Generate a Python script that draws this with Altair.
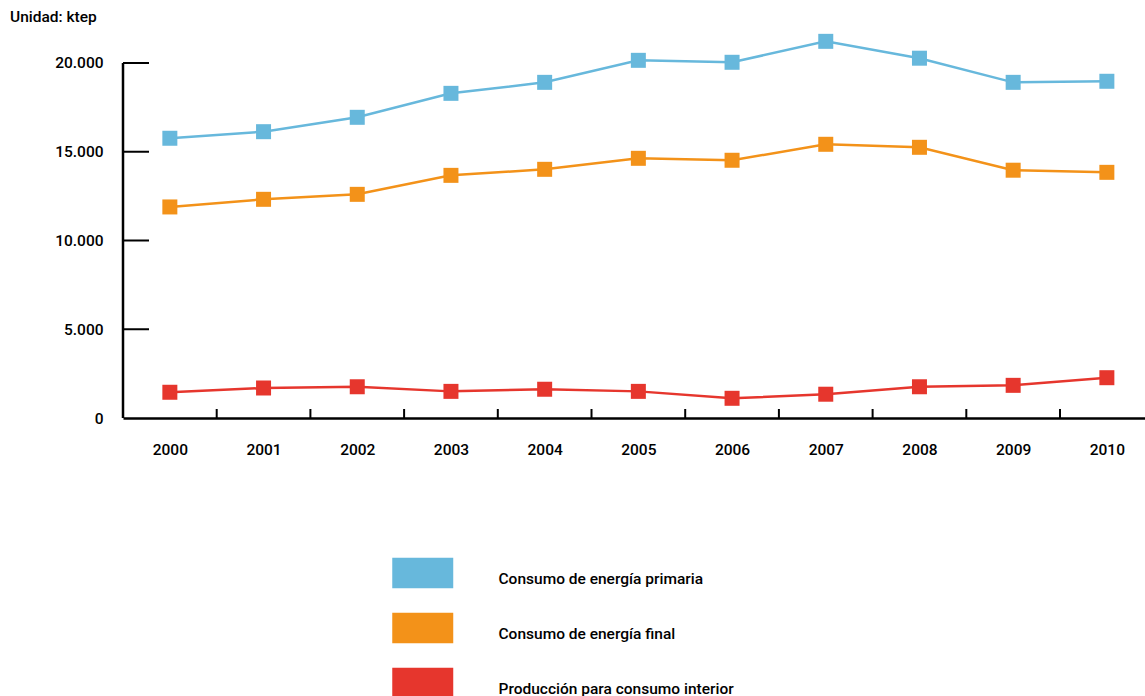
import altair as alt
import pandas as pd

years = [2000, 2001, 2002, 2003, 2004, 2005, 2006, 2007, 2008, 2009, 2010]
primaria = [15760, 16130, 16940, 18290, 18910, 20150, 20040, 21220, 20270, 18910, 18970]
final = [11890, 12320, 12600, 13670, 14010, 14630, 14520, 15420, 15250, 13960, 13840]
produccion = [1450, 1690, 1760, 1500, 1620, 1500, 1110, 1340, 1760, 1840, 2270]

series_names = ["Consumo de energía primaria", "Consumo de energía final", "Producción para consumo interior"]
series_colors = ["#67b8dc", "#f39219", "#e6362d"]

y_label_values = [0, 5000, 10000, 15000, 20000]
y_tick_values = [5000, 10000, 15000, 20000]
x_tick_values = [2000.5, 2001.5, 2002.5, 2003.5, 2004.5, 2005.5, 2006.5, 2007.5, 2008.5, 2009.5]

FONT = "Roboto"
FW = 500
FS = 15.5
W, H = 1022, 383
X_DOMAIN = [1999.5, 2010.407]
Y_DOMAIN = [0, 21577]

rows = []
for name, vals in zip(series_names, [primaria, final, produccion]):
    for yr, v in zip(years, vals):
        rows.append({"year": yr, "value": v, "serie": name})
df = pd.DataFrame(rows)

xs = alt.Scale(domain=X_DOMAIN, nice=False, zero=False)
ys = alt.Scale(domain=Y_DOMAIN, nice=False, zero=False)
cs = alt.Scale(domain=series_names, range=series_colors)

legend = alt.Legend(
    title=None, orient="none", legendX=284.25, legendY=528, padding=0,
    symbolType="M-2,-1.36H2V0.64H-2Z", symbolSize=930, symbolStrokeWidth=0,
    symbolOpacity=1, rowPadding=23, labelOffset=60.25,
    labelFont=FONT, labelFontWeight=FW, labelFontSize=FS, labelColor="black",
    labelBaseline="middle", labelLimit=400)

base = alt.Chart(df).encode(
    x=alt.X("year:Q", scale=xs, axis=alt.Axis(
        values=years, format="d", title=None, grid=False, ticks=False, tickSize=0,
        domain=True, domainColor="black", domainWidth=2.5,
        labelFont=FONT, labelFontWeight=FW, labelFontSize=FS, labelColor="black",
        labelPadding=24, labelAngle=0)),
    y=alt.Y("value:Q", scale=ys, axis=alt.Axis(
        values=y_label_values, title=None, grid=False, ticks=False, tickSize=0,
        domain=False, labelFont=FONT, labelFontWeight=FW, labelFontSize=FS,
        labelColor="black", labelPadding=20,
        labelExpr="replace(format(datum.value, ','), ',', '.')")),
    color=alt.Color("serie:N", scale=cs, legend=legend),
)

lines = base.mark_line(strokeWidth=2.5)
points = base.mark_square(size=225, opacity=1, filled=True)

yaxis_line = alt.Chart(pd.DataFrame({"y0": [0], "y1": [20000]})).mark_rule(
    color="black", strokeWidth=2.5).encode(
    x=alt.value(0), y=alt.Y("y0:Q", scale=ys), y2="y1:Q")

yticks = alt.Chart(pd.DataFrame({"t": y_tick_values})).mark_rule(
    color="black", strokeWidth=2).encode(
    x=alt.value(0), x2=alt.value(26), y=alt.Y("t:Q", scale=ys))

xticks = alt.Chart(pd.DataFrame({"t": x_tick_values})).mark_rule(
    color="black", strokeWidth=2).encode(
    x=alt.X("t:Q", scale=xs), y=alt.value(H - 9), y2=alt.value(H))

chart = alt.layer(yaxis_line, yticks, xticks, lines, points).properties(
    width=W, height=H,
    title=alt.TitleParams("Unidad: ktep", anchor="start", frame="group", dx=-113, offset=8,
                          font=FONT, fontSize=FS, fontWeight=FW, color="black"),
    padding={"left": 123, "top": 35, "right": 0, "bottom": 278},
    autosize=alt.AutoSizeParams(type="none"),
    background="white",
).configure_view(strokeWidth=0, stroke=None)

chart.save("out.html", embed_options={"renderer": "svg", "actions": False})
